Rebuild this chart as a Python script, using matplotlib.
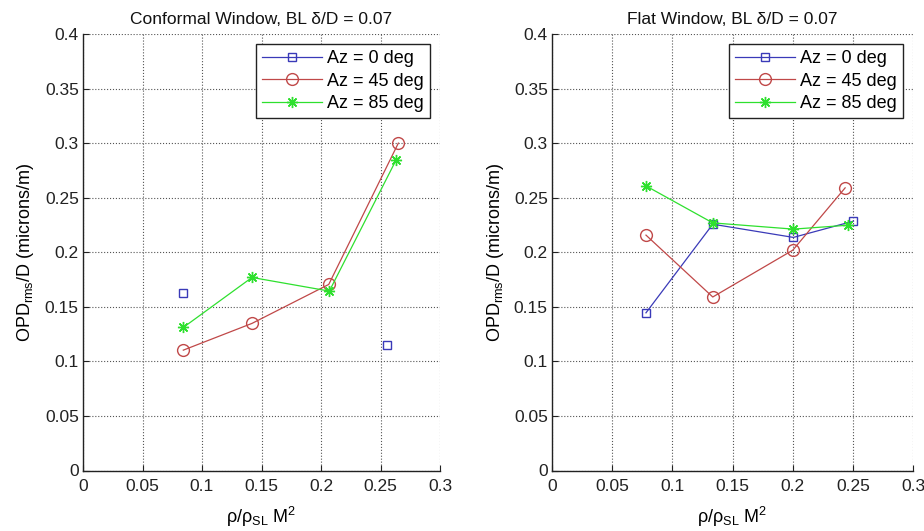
import numpy as np
import matplotlib
matplotlib.use("Agg")
import matplotlib.pyplot as plt

plt.rcParams['font.family'] = ['Liberation Sans', 'DejaVu Sans']
plt.rcParams['mathtext.fontset'] = 'custom'
plt.rcParams['mathtext.rm'] = 'Liberation Sans'
plt.rcParams['mathtext.it'] = 'Liberation Sans'
plt.rcParams['mathtext.default'] = 'rm'

# ---- data ----
titles = ["Conformal Window, BL \u03b4/D = 0.07", "Flat Window, BL \u03b4/D = 0.07"]
labels = ["Az = 0 deg", "Az = 45 deg", "Az = 85 deg"]

conf_x0 = [0.0843, 0.142, 0.2065, 0.2552]
conf_y0 = [0.1628, np.nan, np.nan, 0.1147]
conf_x45 = [0.0843, 0.142, 0.2065, 0.265]
conf_y45 = [0.1103, 0.1348, 0.1705, 0.300]
conf_x85 = [0.0843, 0.142, 0.207, 0.263]
conf_y85 = [0.1311, 0.1769, 0.1644, 0.2843]

flat_x0 = [0.0781, 0.1336, 0.2006, 0.2505]
flat_y0 = [0.1445, 0.2257, 0.2136, 0.2285]
flat_x45 = [0.0781, 0.1336, 0.2001, 0.2436]
flat_y45 = [0.2157, 0.159, 0.2019, 0.259]
flat_x85 = [0.0781, 0.1336, 0.2006, 0.2463]
flat_y85 = [0.2608, 0.2269, 0.2212, 0.2248]

xticks = [0, 0.05, 0.1, 0.15, 0.2, 0.25, 0.3]
yticks = [0, 0.05, 0.1, 0.15, 0.2, 0.25, 0.3, 0.35, 0.4]
xtick_labels = ["0", "0.05", "0.1", "0.15", "0.2", "0.25", "0.3"]
ytick_labels = ["0", "0.05", "0.1", "0.15", "0.2", "0.25", "0.3", "0.35", "0.4"]

colors = ['#3a3ab8', '#c04848', '#2ee02e']
markers = ['s', 'o', (8, 2, 0)]
msizes = [6, 8.5, 8]

fig = plt.figure(figsize=(9.24, 5.31), dpi=100)
axL = fig.add_axes([83 / 924, 1 - 470.5 / 531, 357 / 924, 436.5 / 531])
axR = fig.add_axes([552 / 924, 1 - 470.5 / 531, 361 / 924, 436.5 / 531])

panels = [
    (axL, [(conf_x0, conf_y0), (conf_x45, conf_y45), (conf_x85, conf_y85)]),
    (axR, [(flat_x0, flat_y0), (flat_x45, flat_y45), (flat_x85, flat_y85)]),
]

for i, (ax, series) in enumerate(panels):
    for (xs, ys), c, m, ms, lab in zip(series, colors, markers, msizes, labels):
        ax.plot(xs, ys, color=c, lw=0.9, marker=m, ms=ms, mfc='none',
                mec=c, mew=1.0, label=lab)
    ax.set_xlim(0, 0.3)
    ax.set_ylim(0, 0.4)
    ax.set_xticks(xticks)
    ax.set_xticklabels(xtick_labels)
    ax.set_yticks(yticks)
    ax.set_yticklabels(ytick_labels)
    ax.tick_params(direction='in', length=4, labelsize=12.5, width=0.8,
                   colors='#222222', pad=3)
    ax.tick_params(axis='x', pad=6)
    ax.grid(True, linestyle=':', color='#555555', lw=0.8)
    for s in ['top', 'right']:
        ax.spines[s].set_visible(False)
    for s in ['left', 'bottom']:
        ax.spines[s].set_color('#222222')
        ax.spines[s].set_linewidth(1.0)
    ax.set_title(titles[i], fontsize=12.5, pad=7, color='#111111')
    ax.set_xlabel(r'$\rho/\rho_{\rm SL}$ M$^2$', fontsize=13, labelpad=8)
    ax.set_ylabel(r'OPD$_{\rm rms}$/D (microns/m)', fontsize=13, labelpad=6)
    leg = ax.legend(loc='upper right', fontsize=13, fancybox=False,
                    framealpha=1, edgecolor='#222222', handlelength=3.3,
                    borderaxespad=0.55, borderpad=0.35, labelspacing=0.3,
                    handletextpad=0.3)
    leg.get_frame().set_linewidth(1.0)

fig.savefig("out.png", dpi=100)
